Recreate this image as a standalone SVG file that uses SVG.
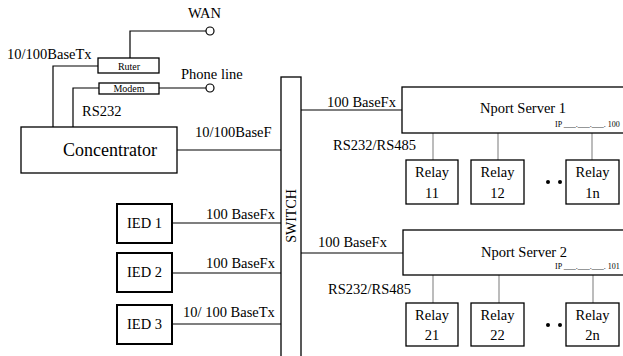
<svg xmlns="http://www.w3.org/2000/svg" width="623" height="356" viewBox="0 0 623 356" font-family="'Liberation Serif', 'Times New Roman', Times, serif">
<style>
text{font-family:"Liberation Serif","Times New Roman",Times,serif;fill:#000}
.box{fill:#fff;stroke:#000;stroke-width:1.3}
.ied{fill:#fff;stroke:#000;stroke-width:2}
.ln{fill:none;stroke:#000;stroke-width:1.2}
.gl{fill:none;stroke:#999;stroke-width:1.3}
.lb{font-size:14.5px}
.sm{font-size:10px}
.ip{font-size:8px}
.c{text-anchor:middle}
.port{fill:#fff;stroke:#000;stroke-width:1.2}
</style>
<g id="connectors">
<path class="ln" d="M130,58 V31 H206"/>
<circle class="port" cx="210" cy="31" r="4"/>
<path class="ln" d="M159,88 H206"/>
<circle class="port" cx="210" cy="88" r="4"/>
<path class="ln" d="M98,66 H53 V127"/>
<path class="ln" d="M99,88 H73 V127"/>
<path class="ln" d="M177,150 H281"/>
<path class="ln" d="M172,223 H281"/>
<path class="ln" d="M172,273 H281"/>
<path class="ln" d="M172,324 H281"/>
<path class="ln" d="M301,110 H402"/>
<path class="ln" d="M301,253 H403"/>
<path class="gl" d="M433,133 V160 M498,133 V160 M592,133 V160"/>
<path class="gl" d="M433,275 V303 M499,275 V303 M593,275 V303"/>
<text class="lb" x="7" y="59">10/100BaseTx</text>
<text class="lb" x="188" y="18">WAN</text>
<text class="lb" x="181" y="79">Phone line</text>
<text class="lb" x="82" y="116">RS232</text>
<text class="lb" x="195" y="137">10/100BaseF</text>
<text class="lb" x="206" y="219">100 BaseFx</text>
<text class="lb" x="206" y="268">100 BaseFx</text>
<text class="lb" x="183" y="317">10/ 100 BaseTx</text>
<text class="lb" x="327" y="107">100 BaseFx</text>
<text class="lb" x="318" y="247">100 BaseFx</text>
<text class="lb" x="333" y="150">RS232/RS485</text>
<text class="lb" x="328" y="294">RS232/RS485</text>
<circle cx="548" cy="182" r="2"/>
<circle cx="560" cy="182" r="2"/>
<circle cx="548" cy="325" r="2"/>
<circle cx="560" cy="325" r="2"/>
</g>
<g id="ruter">
<rect class="box" x="98" y="58" width="61" height="15"/>
<text class="sm c" x="129" y="69.5">Ruter</text>
</g>
<g id="modem">
<rect class="box" x="99" y="83" width="60" height="11"/>
<text class="sm c" x="129" y="92">Modem</text>
</g>
<g id="concentrator">
<rect class="box" x="21" y="127" width="156" height="46"/>
<text class="c" x="110" y="156" style="font-size:18px">Concentrator</text>
</g>
<g id="switch">
<rect class="box" x="281" y="77" width="20" height="290"/>
<text class="c" transform="translate(296,216) rotate(-90)" style="font-size:14px">SWITCH</text>
</g>
<g id="ied1">
<rect class="ied" x="117" y="204" width="55" height="39"/>
<text class="lb c" x="144.5" y="228">IED 1</text>
</g>
<g id="ied2">
<rect class="ied" x="117" y="253" width="55" height="39"/>
<text class="lb c" x="144.5" y="277">IED 2</text>
</g>
<g id="ied3">
<rect class="ied" x="117" y="305" width="55" height="39"/>
<text class="lb c" x="144.5" y="329">IED 3</text>
</g>
<g id="nport1">
<rect class="box" x="402" y="87" width="260" height="46"/>
<text class="lb c" x="523" y="113">Nport Server 1</text>
<text class="ip" x="555" y="127">IP ___.___.___. 100</text>
</g>
<g id="nport2">
<rect class="box" x="403" y="230" width="260" height="45"/>
<text class="lb c" x="524" y="257">Nport Server 2</text>
<text class="ip" x="555" y="269">IP ___.___.___. 101</text>
</g>
<g id="relay11">
<rect class="box" x="406" y="160" width="52" height="44"/>
<text class="lb c" x="432" y="177">Relay</text>
<text class="lb c" x="432" y="198">11</text>
</g>
<g id="relay12">
<rect class="box" x="471" y="160" width="53" height="44"/>
<text class="lb c" x="497.5" y="177">Relay</text>
<text class="lb c" x="497.5" y="198">12</text>
</g>
<g id="relay1n">
<rect class="box" x="566" y="160" width="53" height="44"/>
<text class="lb c" x="592.5" y="177">Relay</text>
<text class="lb c" x="592.5" y="198">1n</text>
</g>
<g id="relay21">
<rect class="box" x="406" y="303" width="52" height="43"/>
<text class="lb c" x="432" y="320">Relay</text>
<text class="lb c" x="432" y="340">21</text>
</g>
<g id="relay22">
<rect class="box" x="471" y="303" width="53" height="43"/>
<text class="lb c" x="497.5" y="320">Relay</text>
<text class="lb c" x="497.5" y="340">22</text>
</g>
<g id="relay2n">
<rect class="box" x="566" y="303" width="53" height="43"/>
<text class="lb c" x="592.5" y="320">Relay</text>
<text class="lb c" x="592.5" y="340">2n</text>
</g>
</svg>
